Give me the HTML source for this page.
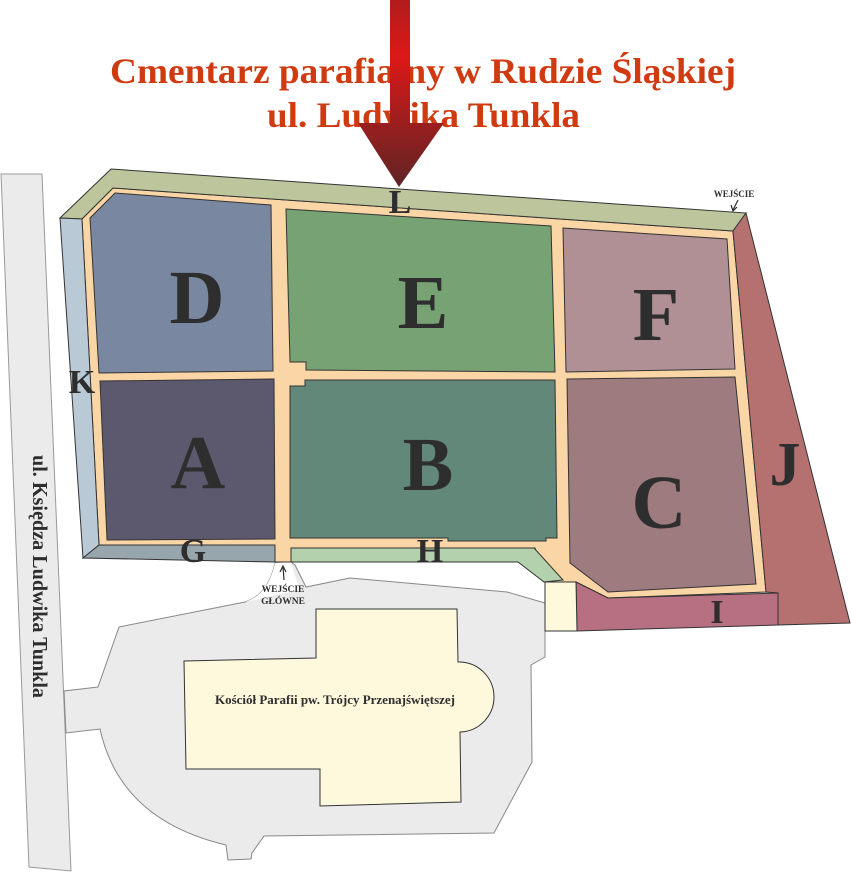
<!DOCTYPE html>
<html><head><meta charset="utf-8"><style>
html,body{margin:0;padding:0;background:#fff;width:852px;height:872px;overflow:hidden}
svg{display:block}
text{font-family:"Liberation Serif",serif;font-weight:bold}
</style></head><body>
<svg width="852" height="872" viewBox="0 0 852 872" xmlns="http://www.w3.org/2000/svg">
<defs>
<linearGradient id="ag" x1="0" y1="0" x2="0" y2="1">
<stop offset="0" stop-color="#b01c1c"/><stop offset="0.3" stop-color="#dd1818"/><stop offset="1" stop-color="#5e2424"/>
</linearGradient>
</defs>
<!-- road -->
<polygon points="1,174 42,174 71,871 29,867" fill="#ebebeb" stroke="#999" stroke-width="1"/>
<text transform="translate(33,455) rotate(90)" font-size="21" fill="#2e2e2e" textLength="243" lengthAdjust="spacingAndGlyphs">ul. Księdza Ludwika Tunkla</text>
<!-- grey church area -->
<path d="M275,563 Q268,595 245,602 L119,627 L98,687 L64,691 L66,733 L100,729 Q120,820 226,845 L228,860 L251,859 L252,853 L264,836 L494,833 L532,762 L531,665 L545,657 L545,603 L507,592 L350,578 L306,587 L295,565 L291,562 Z" fill="#ebebeb" stroke="#888" stroke-width="1"/>
<path d="M275,563 Q268,595 245,602 L300,590 Q293,570 291,562 Z" fill="#fff"/>
<!-- church -->
<path d="M184,661 L316,658 L316,609 L457,609 L458,662 A35,35 0 0 1 460,732 L461,802 L320,806 L320,769 L186,769 Z" fill="#fef8dc" stroke="#333" stroke-width="1"/>
<text x="335" y="704" font-size="12.5" fill="#2e2e2e" text-anchor="middle" textLength="240" lengthAdjust="spacingAndGlyphs">Kościół Parafii pw. Trójcy Przenajświętszej</text>
<!-- orange base -->
<polygon points="82,219 113,188 733,231 766,592 608,598 576,582 545,582 535,548 291,548 291,562 275,562 275,545 99,545" fill="#fad5a5" stroke="#333" stroke-width="1"/>
<!-- green top strip -->
<polygon points="60,218 111,169 746,213 733,231 113,188 82,219" fill="#bcc59b" stroke="#333" stroke-width="1"/>
<!-- left strip -->
<polygon points="60,218 82,219 99,545 83,558" fill="#b9c9d6" stroke="#333" stroke-width="1"/>
<!-- G strip -->
<polygon points="99,545 275,545 275,562 83,558" fill="#97a5ad" stroke="#333" stroke-width="1"/>
<!-- H strip -->
<polygon points="291,548 534,548 563,580 544,582 518,562 291,562" fill="#b3d1ad" stroke="#333" stroke-width="1"/>
<!-- J -->
<polygon points="733,231 746,213 850,623 778,625 778,593 766,592" fill="#b57170" stroke="#333" stroke-width="1"/>
<!-- I -->
<polygon points="576,582 608,598 778,593 778,625 577,631" fill="#b77082" stroke="#333" stroke-width="1"/>
<!-- cream square -->
<polygon points="545,582 576,582 577,631 545,631" fill="#fef8dc" stroke="#333" stroke-width="1"/>
<!-- plots -->
<polygon points="90,218 115,193 271,205 273,371 99,373" fill="#7a87a0" stroke="#333" stroke-width="1"/>
<polygon points="100,381 274,379 275,539 107,540" fill="#5c596f" stroke="#333" stroke-width="1"/>
<polygon points="286,209 551,226 555,372 306,370 306,362 290,362" fill="#77a273" stroke="#333" stroke-width="1"/>
<polygon points="290,386 305,386 305,380 555,380 557,538 546,538 546,541 448,541 448,538 290,538" fill="#62887a" stroke="#333" stroke-width="1"/>
<polygon points="563,228 727,239 735,369 566,372" fill="#b09094" stroke="#333" stroke-width="1"/>
<polygon points="567,379 735,377 756,584 608,592 570,563" fill="#9d7b7f" stroke="#333" stroke-width="1"/>
<!-- letters -->
<g fill="#2e2e2e" text-anchor="middle">
<text x="197" y="323" font-size="76">D</text>
<text x="423" y="328" font-size="76">E</text>
<text x="656" y="340" font-size="76">F</text>
<text x="198" y="488" font-size="76">A</text>
<text x="428" y="490" font-size="76">B</text>
<text x="659" y="528" font-size="76">C</text>
<text x="785" y="485" font-size="62">J</text>
<text x="82" y="393" font-size="34">K</text>
<text x="400" y="213" font-size="34">L</text>
<text x="193" y="562" font-size="34">G</text>
<text x="430" y="562" font-size="34">H</text>
<text x="717" y="623" font-size="34">I</text>
<text x="734" y="197" font-size="9">WEJŚCIE</text>
<text x="283" y="592" font-size="9.5">WEJŚCIE</text>
<text x="283" y="604" font-size="9.5">GŁÓWNE</text>
</g>
<path d="M738,200 L733,210 M731,205 L733,211 L737,207" stroke="#2e2e2e" stroke-width="1.2" fill="none"/>
<path d="M284,580 L283,567 M280,572 L283,566 L286,572" stroke="#2e2e2e" stroke-width="1.2" fill="none"/>
<!-- title -->
<g fill="#d03a10" font-size="36">
<text x="110" y="83" textLength="626" lengthAdjust="spacingAndGlyphs">Cmentarz parafialny w Rudzie Śląskiej</text>
<text x="267" y="127" textLength="313" lengthAdjust="spacingAndGlyphs">ul. Ludwika Tunkla</text>
</g>
<!-- arrow -->
<polygon points="390,0 410,0 410,123 444,123 399,187 358,123 390,123" fill="url(#ag)"/>
</svg>
</body></html>
